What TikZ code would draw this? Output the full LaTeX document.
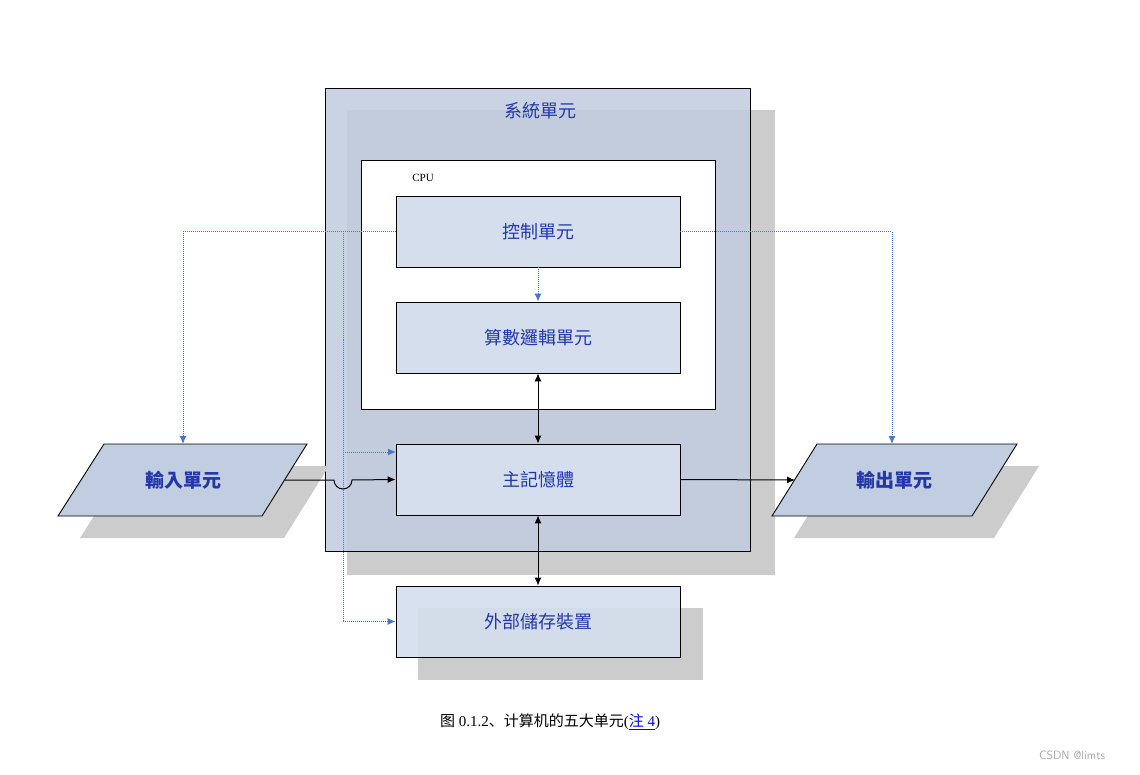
\documentclass[tikz,border=0pt]{standalone}
\usepackage{fontspec}
\setmainfont{Liberation Serif}
\newfontfamily\cjk{Noto Sans CJK TC}
\newfontfamily\cjks{Noto Sans CJK SC}
\usetikzlibrary{arrows.meta}
\definecolor{sysfill}{RGB}{193,205,224}
\definecolor{boxfill}{RGB}{212,222,237}
\definecolor{shad}{RGB}{204,204,204}
\definecolor{txtblue}{RGB}{35,55,170}
\definecolor{dotblue}{RGB}{70,120,200}
\begin{document}
\begin{tikzpicture}[x=1pt,y=-1pt,
  box/.style={draw=black,line width=0.9pt,fill=boxfill,minimum width=284pt,minimum height=71pt,inner sep=0pt,font=\cjk\fontsize{18}{18}\selectfont,text=txtblue},
  dot/.style={dotblue,densely dotted,line width=1pt,-{Latex[length=8pt,width=7pt]}},
  sol/.style={black,line width=1pt,-{Latex[length=8pt,width=7pt]}},
  bsol/.style={black,line width=1pt,{Latex[length=8pt,width=7pt]}-{Latex[length=8pt,width=7pt]}},
  lab/.style={font=\cjk\fontsize{18}{18}\selectfont,text=txtblue}]
\useasboundingbox (0,0) rectangle (1140,775);
% system unit
\fill[shad] (347,110) rectangle (775,575);
\draw[line width=0.9pt,fill=sysfill,fill opacity=0.88] (325,88) rectangle (750,551);
\node[lab] (sys) at (540,111) {系統單元};
\draw[line width=0.9pt,fill=white] (361,160) rectangle (715,409);
\node[font=\fontsize{11}{11}\selectfont] (cpu) at (423,178) {CPU};
% boxes
\node[box] (ctl) at (538,231.5) {控制單元};
\node[box] (alu) at (538,337.5) {算數邏輯單元};
\node[box] (mem) at (538,479.5) {主記憶體};
\fill[shad] (418,608) rectangle (703,680);
\node[box,fill opacity=0.9,text opacity=1] (ext) at (538,621.5) {外部儲存裝置};
% input / output
\fill[shad] (80,538) -- (126,466) -- (329,466) -- (284,538) -- cycle;
\draw[line width=0.9pt,fill=sysfill] (58,516) -- (104,444) -- (307,444) -- (262,516) -- cycle;
\node[lab,font=\cjk\bfseries\fontsize{19}{19}\selectfont] (in) at (183,480) {\itshape 輸入單元};
\fill[shad] (794,538) -- (839,466) -- (1039,466) -- (994,538) -- cycle;
\draw[line width=0.9pt,fill=sysfill] (772,516) -- (817,444) -- (1017,444) -- (972,516) -- cycle;
\node[lab,font=\cjk\bfseries\fontsize{19}{19}\selectfont] (out) at (894,480) {\itshape 輸出單元};
\coordinate (inR) at (285,480);
\coordinate (outL) at (795,480);
% dotted control lines
\draw[dot] (ctl.west) -| (183,444);
\draw[dot] (ctl.east) -| (892,444);
\draw[dot] (ctl.south) -- (alu.north);
\draw[dot] (343,231.5) |- (ext.west);
\draw[dot] (343,452) -- (396,452);
% solid data lines
\draw[bsol] (alu.south) -- (mem.north);
\draw[bsol] (mem.south) -- (ext.north);
\draw[sol] (inR) -- (334,480) arc[start angle=180,end angle=0,radius=9] -- (mem.west);
\draw[sol] (mem.east) -- (outL);
% caption
\node[anchor=center,font=\fontsize{15}{15}\selectfont] (cap) at (550,722) {{\cjks 图} 0.1.2{\cjks 、计算机的五大单元}(\textcolor{blue}{\underline{{\cjks 注} 4}})};
\node[font=\sffamily\fontsize{12}{12}\selectfont,text=gray!70] (wm) at (1072,755) {CSDN @limts};
\end{tikzpicture}
\end{document}
